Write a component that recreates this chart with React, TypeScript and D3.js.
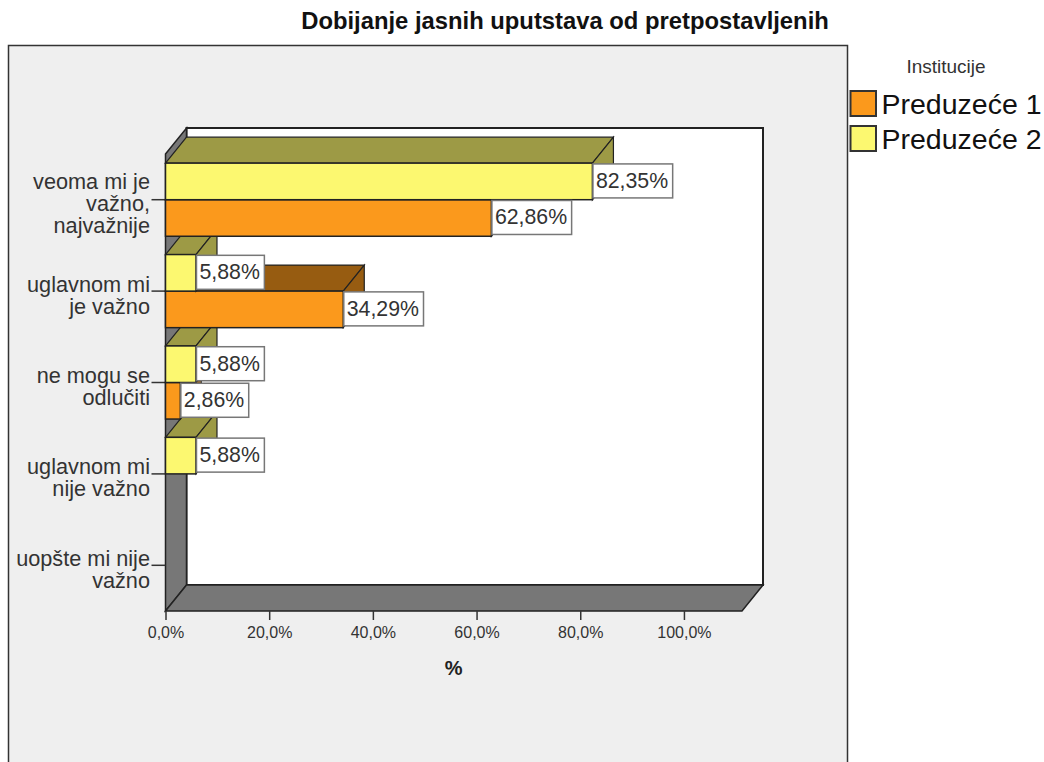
import { useEffect, useRef } from 'react';
import * as d3 from 'd3';

const TITLE = 'Dobijanje jasnih uputstava od pretpostavljenih';
const LEGEND_TITLE = 'Institucije';
const AXIS_TITLE = '%';
const CATEGORIES = ['veoma', 'uglavnom', 'neodluceno', 'nije', 'uopste'];
const CATEGORY_LINES = [
  ['veoma mi je', 'važno,', 'najvažnije'],
  ['uglavnom mi', 'je važno'],
  ['ne mogu se', 'odlučiti'],
  ['uglavnom mi', 'nije važno'],
  ['uopšte mi nije', 'važno'],
];
const SERIES = ['Preduzeće 2', 'Preduzeće 1'];
const VALUES_P1 = [62.86, 34.29, 2.86, 0, 0];
const VALUES_P2 = [82.35, 5.88, 5.88, 5.88, 0];
const X_TICKS = [0, 20, 40, 60, 80, 100];

const FONT = '"Liberation Sans", Arial, sans-serif';
const DEPTH_X = 21;
const DEPTH_Y = 26;

const pct = (v: number, digits: number) => v.toFixed(digits).replace('.', ',') + '%';

export default function App() {
  const svgRef = useRef<SVGSVGElement>(null);

  useEffect(() => {
    if (!svgRef.current) return;
    const svg = d3.select(svgRef.current);
    svg.selectAll('*').remove();
    svg.style('font-family', FONT);

    const x = d3.scaleLinear().domain([0, 111.2]).range([165.5, 742]);
    const y = d3.scaleBand<string>().domain(CATEGORIES).range([154, 611]);
    const inner = d3.scaleBand<string>().domain(SERIES).range([y.bandwidth() * 0.1, y.bandwidth() * 0.9]);

    const x0 = x.range()[0];
    const x1 = x.range()[1];
    const y0 = y.range()[0];
    const y1 = y.range()[1];

    // Outer panel, bottom edge runs off the page
    svg.append('rect')
      .attr('x', 8.5).attr('y', 45.5).attr('width', 839).attr('height', 730)
      .attr('fill', '#efefef').attr('stroke', '#333').attr('stroke-width', 1.5);

    svg.append('text')
      .attr('x', 565).attr('y', 29).attr('text-anchor', 'middle')
      .attr('font-size', 23.8).attr('font-weight', 'bold').attr('fill', '#111')
      .text(TITLE);

    // 3D box: back wall, left wall, floor
    const wallLine = d3.line();
    svg.append('rect')
      .attr('x', x0 + DEPTH_X).attr('y', y0 - DEPTH_Y)
      .attr('width', x1 - x0).attr('height', y1 - y0)
      .attr('fill', '#fff').attr('stroke', '#222').attr('stroke-width', 2);
    svg.append('path')
      .attr('d', wallLine([
        [x0, y0], [x0 + DEPTH_X, y0 - DEPTH_Y], [x0 + DEPTH_X, y1 - DEPTH_Y], [x0, y1],
      ]) + 'Z')
      .attr('fill', '#777').attr('stroke', '#222').attr('stroke-width', 1.5);
    svg.append('path')
      .attr('d', wallLine([
        [x0, y1], [x0 + DEPTH_X, y1 - DEPTH_Y], [x1 + DEPTH_X, y1 - DEPTH_Y], [x1, y1],
      ]) + 'Z')
      .attr('fill', '#777').attr('stroke', '#222').attr('stroke-width', 1.5);

    // Axes
    const xAxis = d3.axisBottom(x).tickValues(X_TICKS).tickSize(9).tickFormat(d => pct(+d, 1));
    const gx = svg.append('g').attr('transform', `translate(0,${y1})`).call(xAxis);
    gx.select('.domain').remove();
    gx.selectAll('line').attr('stroke', '#333').attr('stroke-width', 1.5);
    gx.selectAll('text')
      .attr('font-size', 16).attr('font-family', FONT).attr('fill', '#333').attr('y', 16);

    const yAxis = d3.axisLeft(y).tickSize(14).tickFormat(() => '');
    const gy = svg.append('g').attr('transform', `translate(${x0},0)`).call(yAxis);
    gy.select('.domain').remove();
    gy.selectAll('line').attr('stroke', '#333').attr('stroke-width', 1.5);

    CATEGORIES.forEach((cat, i) => {
      const lines = CATEGORY_LINES[i];
      const cy = (y(cat) as number) + y.bandwidth() / 2;
      const text = svg.append('text')
        .attr('text-anchor', 'end').attr('font-size', 21.7).attr('fill', '#333');
      lines.forEach((line, k) => {
        text.append('tspan')
          .attr('x', 150)
          .attr('y', cy + 11.5 + (k - (lines.length - 1) / 2) * 22)
          .text(line);
      });
    });

    svg.append('text')
      .attr('x', x(55.6)).attr('y', 675).attr('text-anchor', 'middle')
      .attr('font-size', 20).attr('font-weight', 'bold').attr('fill', '#222')
      .text(AXIS_TITLE);

    // Bars, painted from the bottom category up so nearer faces cover farther ones
    const seriesStyle = [
      { name: SERIES[1], values: VALUES_P1, front: '#fb991c', top: '#975c11' },
      { name: SERIES[0], values: VALUES_P2, front: '#fcf870', top: '#9d9a45' },
    ];
    const bars = svg.append('g');
    const labels: { value: number; cy: number }[] = [];
    for (let i = CATEGORIES.length - 1; i >= 0; i--) {
      seriesStyle.forEach(s => {
        const v = s.values[i];
        if (!v) return;
        const top = (y(CATEGORIES[i]) as number) + (inner(s.name) as number);
        const h = inner.bandwidth();
        const right = x(v);
        bars.append('path')
          .attr('d', wallLine([
            [x0, top], [x0 + DEPTH_X, top - DEPTH_Y], [right + DEPTH_X, top - DEPTH_Y], [right, top],
          ]) + 'Z')
          .attr('fill', s.top).attr('stroke', '#222').attr('stroke-width', 1.2);
        bars.append('path')
          .attr('d', wallLine([
            [right, top], [right + DEPTH_X, top - DEPTH_Y], [right + DEPTH_X, top + h - DEPTH_Y], [right, top + h],
          ]) + 'Z')
          .attr('fill', s.top).attr('stroke', '#222').attr('stroke-width', 1.2);
        bars.append('rect')
          .attr('x', x0).attr('y', top).attr('width', right - x0).attr('height', h)
          .attr('fill', s.front).attr('stroke', '#222').attr('stroke-width', 1.5);
        labels.push({ value: v, cy: top + h / 2 });
      });
    }

    // Value labels go on top of every bar
    labels.forEach(l => {
      const g = svg.append('g');
      const box = g.append('rect');
      const text = g.append('text')
        .attr('x', x(l.value) + 3.5).attr('y', l.cy + 6.5)
        .attr('font-size', 21.3).attr('fill', '#333')
        .text(pct(l.value, 2));
      const w = (text.node() as SVGTextElement).getComputedTextLength() + 7.5;
      box.attr('x', x(l.value) + 0.5).attr('y', l.cy - 17.5)
        .attr('width', w).attr('height', 34)
        .attr('fill', '#fff').attr('stroke', '#777').attr('stroke-width', 1.5);
    });

    // Legend
    svg.append('text')
      .attr('x', 946).attr('y', 73).attr('text-anchor', 'middle')
      .attr('font-size', 19).attr('fill', '#333')
      .text(LEGEND_TITLE);
    const legend = d3.scalePoint<string>().domain([SERIES[1], SERIES[0]]).range([91, 126]);
    seriesStyle.forEach(s => {
      const ly = legend(s.name) as number;
      svg.append('rect')
        .attr('x', 850.5).attr('y', ly).attr('width', 25.5).attr('height', 25)
        .attr('fill', s.front).attr('stroke', '#333').attr('stroke-width', 2);
      svg.append('text')
        .attr('x', 881.5).attr('y', ly + 23)
        .attr('font-size', 28.5).attr('fill', '#111')
        .text(s.name);
    });
  }, []);

  return (
    <svg
      ref={svgRef}
      width={1044}
      height={762}
      style={{ position: 'absolute', left: 0, top: 0, display: 'block', background: '#fff' }}
    />
  );
}
